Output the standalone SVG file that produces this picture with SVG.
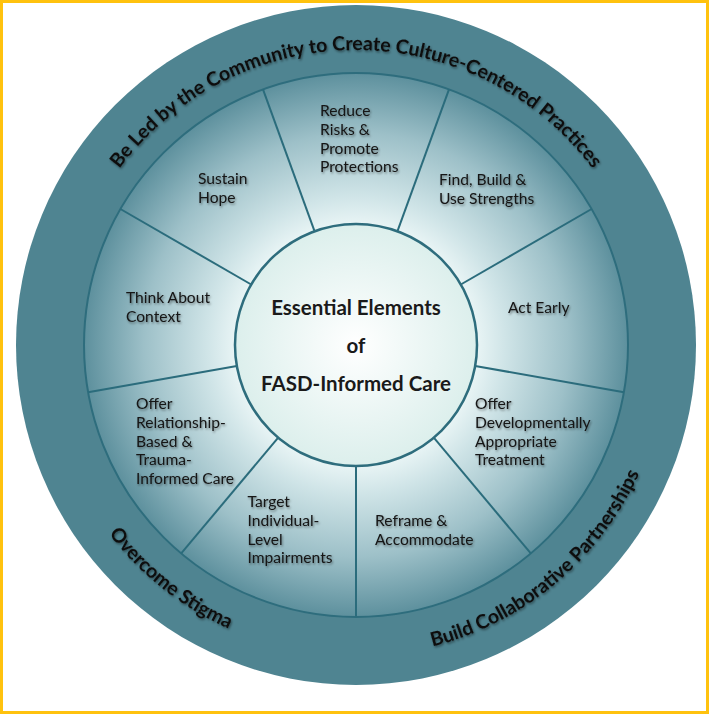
<svg xmlns="http://www.w3.org/2000/svg" width="709" height="714" viewBox="0 0 709 714">
  <defs>
    <radialGradient id="ringGrad" gradientUnits="userSpaceOnUse" cx="356" cy="345" r="272">
      <stop offset="0.42" stop-color="#eef8f8"/>
      <stop offset="0.55" stop-color="#cfe4e7"/>
      <stop offset="0.78" stop-color="#9dc0c8"/>
      <stop offset="1" stop-color="#5d909d"/>
    </radialGradient>
    <radialGradient id="centerGrad" gradientUnits="userSpaceOnUse" cx="356" cy="345" r="121">
      <stop offset="0" stop-color="#ffffff"/>
      <stop offset="1" stop-color="#dcefec"/>
    </radialGradient>
    <filter id="shadow" x="-10%" y="-20%" width="130%" height="150%">
      <feDropShadow dx="1" dy="1.5" stdDeviation="1" flood-color="#000" flood-opacity="0.45"/>
    </filter>
    <path id="arcTop" d="M 61 345 A 295 295 0 0 1 651 345"/>
    <path id="arcBottom" d="M 45 345 A 311 311 0 0 0 667 345"/>
  </defs>
  <style>
    .label { font-family: Lato, "Liberation Sans", sans-serif; font-size: 15.6px; fill: #141414; filter: url(#shadow); }
    .ringText { font-family: Lato, "Liberation Sans", sans-serif; font-size: 19.5px; font-weight: bold; fill: #111; filter: url(#shadow); }
    .centerText { font-family: Lato, "Liberation Sans", sans-serif; font-size: 20.5px; font-weight: bold; fill: #1a1a1a; text-anchor: middle; }
    .divider { stroke: #2b6c7c; stroke-width: 2; }
  </style>

  <rect x="1.5" y="1.5" width="706" height="711" fill="#ffffff" stroke="#ffc20e" stroke-width="3"/>

  <g id="outer-ring">
    <circle cx="356" cy="345" r="340" fill="#4f8491"/>
    <text class="ringText"><textPath href="#arcTop" startOffset="50%" text-anchor="middle">Be Led by the Community to Create Culture-Centered Practices</textPath></text>
    <text class="ringText"><textPath href="#arcBottom" startOffset="280" text-anchor="middle">Overcome Stigma</textPath></text>
    <text class="ringText"><textPath href="#arcBottom" startOffset="705" text-anchor="middle">Build Collaborative Partnerships</textPath></text>
  </g>

  <g id="inner-ring">
    <circle cx="356" cy="345" r="272" fill="url(#ringGrad)" stroke="#2e6d7d" stroke-width="2"/>
  </g>

  <g id="connectors">
    <line class="divider" x1="397.4" y1="231.3" x2="449.0" y2="89.4"/>
    <line class="divider" x1="460.8" y1="284.5" x2="591.6" y2="209.0"/>
    <line class="divider" x1="475.2" y1="366.0" x2="623.9" y2="392.2"/>
    <line class="divider" x1="433.8" y1="437.7" x2="530.8" y2="553.4"/>
    <line class="divider" x1="356" y1="466" x2="356" y2="617"/>
    <line class="divider" x1="278.2" y1="437.7" x2="181.2" y2="553.4"/>
    <line class="divider" x1="236.8" y1="366.0" x2="88.1" y2="392.2"/>
    <line class="divider" x1="251.2" y1="284.5" x2="120.4" y2="209.0"/>
    <line class="divider" x1="314.6" y1="231.3" x2="263.0" y2="89.4"/>
  </g>

  <g id="center">
    <circle cx="356" cy="345" r="121" fill="url(#centerGrad)" stroke="#2e6d7d" stroke-width="2.5"/>
    <text class="centerText" x="356" y="315">Essential Elements</text>
    <text class="centerText" x="356" y="353">of</text>
    <text class="centerText" x="356" y="390.5">FASD-Informed Care</text>
  </g>

  <g id="reduce-risks">
    <text class="label"><tspan x="320" y="116">Reduce</tspan><tspan x="320" y="135">Risks &amp;</tspan><tspan x="320" y="153.5">Promote</tspan><tspan x="320" y="172">Protections</tspan></text>
  </g>
  <g id="find-build">
    <text class="label"><tspan x="439" y="185">Find, Build &amp;</tspan><tspan x="439" y="203.5">Use Strengths</tspan></text>
  </g>
  <g id="act-early">
    <text class="label"><tspan x="508" y="313">Act Early</tspan></text>
  </g>
  <g id="offer-developmental">
    <text class="label"><tspan x="475" y="409">Offer</tspan><tspan x="475" y="428">Developmentally</tspan><tspan x="475" y="446.5">Appropriate</tspan><tspan x="475" y="465">Treatment</tspan></text>
  </g>
  <g id="reframe">
    <text class="label"><tspan x="375" y="526">Reframe &amp;</tspan><tspan x="375" y="544.5">Accommodate</tspan></text>
  </g>
  <g id="target">
    <text class="label"><tspan x="247.5" y="507">Target</tspan><tspan x="247.5" y="526">Individual-</tspan><tspan x="247.5" y="544.5">Level</tspan><tspan x="247.5" y="563">Impairments</tspan></text>
  </g>
  <g id="offer-relationship">
    <text class="label"><tspan x="136" y="409">Offer</tspan><tspan x="136" y="428">Relationship-</tspan><tspan x="136" y="446.5">Based &amp;</tspan><tspan x="136" y="465">Trauma-</tspan><tspan x="136" y="484">Informed Care</tspan></text>
  </g>
  <g id="think-context">
    <text class="label"><tspan x="126" y="303">Think About</tspan><tspan x="126" y="322">Context</tspan></text>
  </g>
  <g id="sustain-hope">
    <text class="label"><tspan x="198" y="184">Sustain</tspan><tspan x="198" y="203">Hope</tspan></text>
  </g>
</svg>
